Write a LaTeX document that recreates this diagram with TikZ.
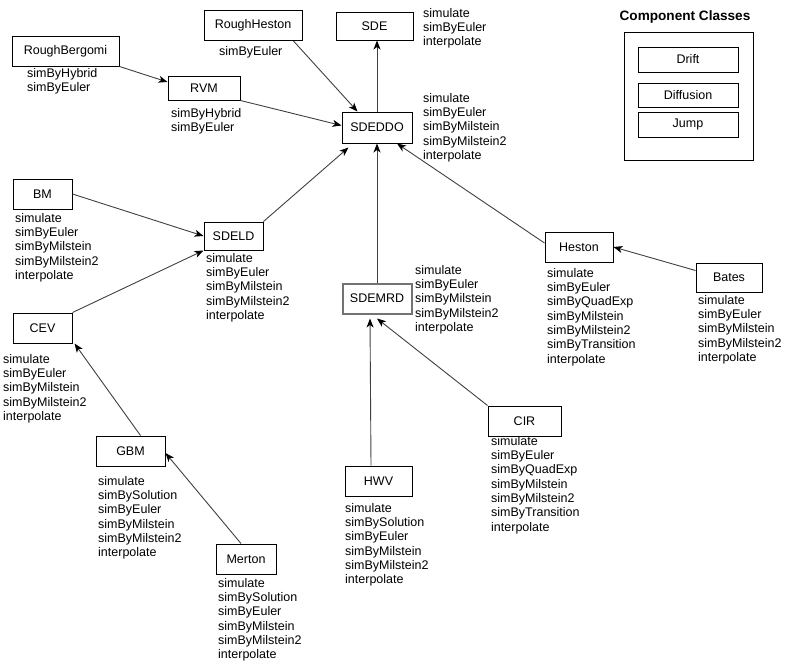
\documentclass[tikz,border=0pt]{standalone}
\usepackage{fontspec}
\setmainfont{Liberation Sans}
\usetikzlibrary{arrows.meta}

\newcommand{\stdmethods}{simulate\\simByEuler\\simByMilstein\\simByMilstein2\\interpolate}
\newcommand{\solmethods}{simulate\\simBySolution\\simByEuler\\simByMilstein\\simByMilstein2\\interpolate}
\newcommand{\quadmethods}{simulate\\simByEuler\\simByQuadExp\\simByMilstein\\simByMilstein2\\simByTransition\\interpolate}

\begin{document}
\begin{tikzpicture}[x=1pt,y=-1pt,
        box/.style={draw,line width=1pt,minimum height=30,inner sep=0,font=\fontsize{12.5}{14.3}\selectfont},
        meth/.style={anchor=north west,align=left,inner sep=0,font=\fontsize{12.5}{14.3}\selectfont},
        arr/.style={draw=black!75,line width=0.9pt,-{Stealth[length=9pt,width=7pt,inset=2.5pt,color=black]}}]
        \useasboundingbox (0,0) rectangle (802,667);

        % model classes
        \node[box,minimum width=107] (rb) at (65.5,51) {RoughBergomi};
        \node[box,minimum width=98] (rh) at (253,25.5) {RoughHeston};
        \node[box,minimum width=72,minimum height=24] (rvm) at (204,88) {RVM};
        \node[box,minimum width=77,minimum height=28] (sde) at (374.5,26) {SDE};
        \node[box,minimum width=70,minimum height=31] (sdeddo) at (377,127.5) {SDEDDO};
        \node[box,minimum width=59] (bm) at (42.5,194) {BM};
        \node[box,minimum width=59,minimum height=28] (sdeld) at (233.5,236) {SDELD};
        \node[box,minimum width=59] (cev) at (42.5,328) {CEV};
        \node[box,draw=black!55,line width=2pt,minimum width=69,minimum height=30] (sdemrd) at (377,298.5) {SDEMRD};
        \node[box,minimum width=68] (heston) at (579,247) {Heston};
        \node[box,minimum width=66,minimum height=29] (bates) at (729,277.5) {Bates};
        \node[box,minimum width=69] (gbm) at (130.5,451) {GBM};
        \node[box,minimum width=60] (merton) at (246,559) {Merton};
        \node[box,minimum width=67] (hwv) at (378.5,481) {HWV};
        \node[box,minimum width=73] (cir) at (524.5,421) {CIR};

        % methods
        \node[meth] (rb-m) at (27,68) {simByHybrid\\simByEuler};
        \node[meth] (rh-m) at (219,46) {simByEuler};
        \node[meth] (rvm-m) at (171,108) {simByHybrid\\simByEuler};
        \node[meth] (sde-m) at (423,8) {simulate\\simByEuler\\interpolate};
        \node[meth] (sdeddo-m) at (423,93) {\stdmethods};
        \node[meth] (bm-m) at (15,213) {\stdmethods};
        \node[meth] (sdeld-m) at (206,253) {\stdmethods};
        \node[meth] (cev-m) at (3,354) {\stdmethods};
        \node[meth] (sdemrd-m) at (415,265) {\stdmethods};
        \node[meth] (heston-m) at (547,268) {\quadmethods};
        \node[meth] (bates-m) at (698,295) {\stdmethods};
        \node[meth] (gbm-m) at (98,476) {\solmethods};
        \node[meth] (merton-m) at (218,578) {\solmethods};
        \node[meth] (hwv-m) at (345,503) {\solmethods};
        \node[meth] (cir-m) at (491,436) {\quadmethods};

        % component classes
        \node[font=\fontsize{13.6}{15}\selectfont\bfseries] (cc) at (685,17) {Component Classes};
        \node[box,minimum width=129,minimum height=128] (ccbox) at (688.5,96) {};
        \node[box,minimum width=100,minimum height=25] (drift) at (688,59.5) {Drift};
        \node[box,minimum width=100,minimum height=24] (diffusion) at (688,95) {Diffusion};
        \node[box,minimum width=100,minimum height=25] (jump) at (688,124.5) {Jump};

        % inheritance
        \draw[arr] (rb.south east) -- ([yshift=6]rvm.west);
        \draw[arr] (rvm.south east) -- ([yshift=2]sdeddo.west);
        \draw[arr] ([xshift=-9]rh.south east) -- ([xshift=16]sdeddo.north west);
        \draw[arr] (sdeddo.north) -- (sdeddo.north |- sde.south);
        \draw[arr] (sdeld.north east) -- ([xshift=7,yshift=-4]sdeddo.south west);
        \draw[arr] (sdemrd.north) -- (sdeddo.south);
        \draw[arr] ([yshift=4]heston.west) -- ([xshift=20]sdeddo.south);
        \draw[arr] ([yshift=7]bates.west) -- (heston.east);
        \draw[arr] (bm.east) -- (sdeld.west);
        \draw[arr] (cev.north east) -- (sdeld.south west);
        \draw[arr] ([xshift=10]gbm.north) -- ([xshift=2]cev.south east);
        \draw[arr] ([xshift=-5]merton.north) -- ([yshift=-2]gbm.east);
        \draw[arr] ([xshift=-7.5]hwv.north) -- ([xshift=-7,yshift=-4]sdemrd.south);
        \draw[arr] (cir.north west) -- ([yshift=-4]sdemrd.south);
\end{tikzpicture}
\end{document}
